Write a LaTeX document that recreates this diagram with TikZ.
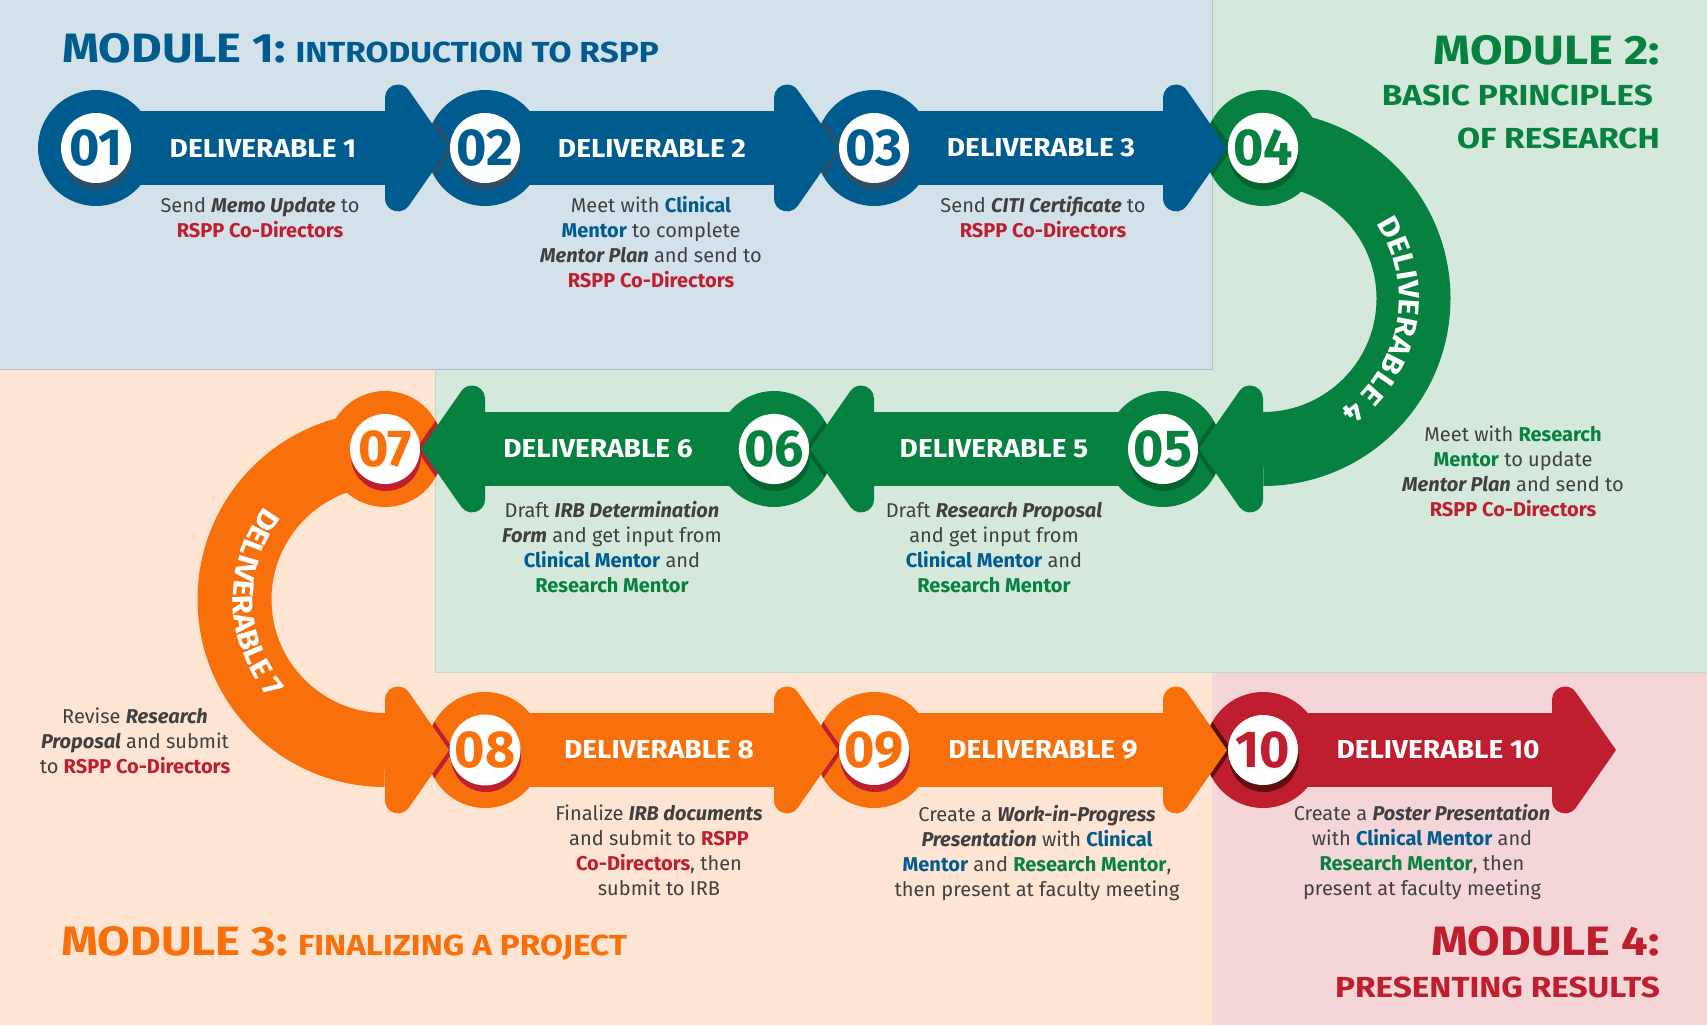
\documentclass[tikz,border=0pt]{standalone}
\usepackage{fontspec}
\setmainfont{Fira Sans}
\newfontfamily\widefont[FakeStretch=1.15]{Fira Sans}
\newfontfamily\labfont[FakeStretch=1.08]{Fira Sans}
\usetikzlibrary{calc,decorations.text}

\definecolor{blueM}{HTML}{005B8F}
\definecolor{blueD}{HTML}{2C4E66}
\definecolor{greenM}{HTML}{07813F}
\definecolor{greenD}{HTML}{04622F}
\definecolor{orangeM}{HTML}{F7700C}
\definecolor{redM}{HTML}{BE1E2E}
\definecolor{redD}{HTML}{5E0F12}
\definecolor{bgA}{HTML}{D3E1EA}
\definecolor{bgB}{HTML}{D4E8DC}
\definecolor{bgC}{HTML}{FDE4D3}
\definecolor{bgD}{HTML}{F4D5D8}
\definecolor{txt}{HTML}{404040}

\newcommand\numfont{\fontsize{52}{52}\selectfont\bfseries}
\newcommand\delfont{\labfont\fontsize{26}{30}\selectfont\bfseries}
\newcommand\curvefont{\labfont\fontsize{29}{30}\selectfont\bfseries}
\newcommand\rsp[1]{\textcolor{redM}{\textbf{#1}}}
\newcommand\clm[1]{\textcolor{blueM}{\textbf{#1}}}
\newcommand\rsm[1]{\textcolor{greenM}{\textbf{#1}}}
\newcommand\bi[1]{\textbf{\textit{#1}}}
% arrow head, drawn round the centre of the circle it points into
\newcommand\headfill[1]{%
  \fill[#1] (-100,50.5) -- (-100,-50.5) arc[start angle=180, end angle=325.2, radius=13]
    -- (-36,0) -- (-76.3,57.9) arc[start angle=34.8, end angle=180, radius=13] -- cycle;}

\tikzset{
  ring/.style={circle, minimum size=116pt, inner sep=0pt},
  disc/.style={circle, fill=white, minimum size=70pt, inner sep=0pt, font=\numfont},
  dlabel/.style={text=white, font=\delfont, inner sep=0pt},
  desc/.style={align=center, text=txt, font=\fontsize{20}{25}\selectfont, inner sep=0pt, anchor=base},
  band/.style={line width=74pt, draw=#1},
  modbig/.style={font=\widefont\fontsize{41}{41}\selectfont\bfseries, inner sep=0pt},
  modsmall/.style={font=\widefont\fontsize{29}{29}\selectfont\bfseries, inner sep=0pt}
}

\begin{document}
\begin{tikzpicture}[x=1pt, y=-1pt]
\useasboundingbox (0,0) rectangle (1707,1025);

% module backgrounds
\fill[bgA] (0,0) rectangle (1212,369);
\fill[bgB] (1212,0) -- (1707,0) -- (1707,672) -- (435,672) -- (435,369) -- (1212,369) -- cycle;
\fill[bgC] (0,369) -- (435,369) -- (435,672) -- (1212,672) -- (1212,1025) -- (0,1025) -- cycle;
\fill[bgD] (1212,672) rectangle (1707,1025);
\draw[bgA!85!black, line width=0.8pt] (0,369) -- (1212,369) -- (1212,0);
\draw[bgB!92!black, line width=0.8pt] (435,369) -- (435,672) -- (1707,672);

% module titles
\node[modbig, text=blueM, anchor=base west] (m1) at (62,63) {MODULE 1:};
\node[modsmall, text=blueM, anchor=base west] (m1s) at ($(m1.base east)+(9,0)$) {INTRODUCTION TO RSPP};
\node[modbig, text=greenM, anchor=base east] (m2) at (1660,64) {MODULE 2:};
\node[modsmall, text=greenM, anchor=base east] (m2s) at (1653,105) {BASIC PRINCIPLES};
\node[modsmall, text=greenM, anchor=base east] (m2t) at (1660,148) {OF RESEARCH};
\node[modbig, text=orangeM, anchor=base west] (m3) at (61,955) {MODULE 3:};
\node[modsmall, text=orangeM, anchor=base west] (m3s) at ($(m3.base east)+(10,0)$) {FINALIZING A PROJECT};
\node[modbig, text=redM, anchor=base east] (m4) at (1660,955) {MODULE 4:};
\node[modsmall, text=redM, anchor=base east] (m4s) at (1660,997) {PRESENTING RESULTS};

% positions of the steps
\foreach \i/\x/\y in {01/96/148, 02/485/148, 03/874/148, 04/1263/148, 05/1163/449,
                      06/774/449, 07/385/449, 08/485/750, 09/874/750, 10/1263/750}
  \coordinate (c\i) at (\x,\y);
\coordinate (e10) at (1652,750);
\coordinate (o4) at (1263,298.5);
\coordinate (o7) at (385,599.5);

% bands
\foreach \a/\b/\dir/\col in {01/02/1/blueM, 02/03/1/blueM, 03/04/1/blueM, 05/06/-1/greenM,
                             06/07/-1/greenM, 08/09/1/orangeM, 09/10/1/orangeM}
  \draw[band=\col] (c\a) -- ($(c\b)+({-100*\dir},0)$);
\draw[band=redM] (c10) -- ($(e10)+(-100,0)$);
\draw[band=greenM] (c04) arc[start angle=-90, end angle=90, radius=150.5];
\draw[band=orangeM] (c07) arc[start angle=-90, end angle=-270, radius=150.5];

% rings
\foreach \i/\col in {01/blueM, 02/blueM, 03/blueM, 04/greenM, 05/greenM,
                     06/greenM, 07/orangeM, 08/orangeM, 09/orangeM, 10/redM}
  \node[ring, fill=\col] (r\i) at (c\i) {};

% arrow heads with their shadow on the next ring
\foreach \b/\dir/\col/\dk in {02/1/blueM/blueD, 03/1/blueM/blueD, 04/1/blueM/greenD,
                              05/-1/greenM/greenD, 06/-1/greenM/greenD, 07/-1/greenM/redM,
                              08/1/orangeM/redM, 09/1/orangeM/redM, 10/1/orangeM/redD}{
  \begin{scope}[shift={(c\b)}, xscale=\dir]
    \clip (0,0) circle[radius=58];
    \begin{scope}[xshift=5pt]
      \headfill{\dk}
    \end{scope}
  \end{scope}
  \begin{scope}[shift={(c\b)}, xscale=\dir]
    \headfill{\col}
  \end{scope}
}
\begin{scope}[shift={(e10)}]
  \headfill{redM}
\end{scope}

% number discs
\foreach \i/\col/\dk in {01/blueM/blueD, 02/blueM/blueD, 03/blueM/blueD, 04/greenM/greenD,
                         05/greenM/greenD, 06/greenM/greenD, 07/orangeM/redM,
                         08/orangeM/redM, 09/orangeM/redM, 10/redM/redD}{
  \fill[\dk] ($(c\i)+(1,7)$) circle[radius=35];
  \node[disc, text=\col] (n\i) at (c\i) {\i};
}

% labels on the bands
\foreach \i/\k/\x/\y in {01/1/263/148, 02/2/652/148, 03/3/1041/148, 05/5/994/449,
                         06/6/598/449, 08/8/659/750, 09/9/1043/750, 10/10/1438/750}
  \node[dlabel] (l\i) at (\x,\y) {DELIVERABLE \k};
\path[decorate, decoration={text along path, text align=center, text color=white,
  text={|\curvefont|DELIVERABLE 4}}]
  ($(o4)+(-40:136)$) arc[start angle=-40, end angle=62, radius=136];
\path[decorate, decoration={text along path, text align=center, text color=white,
  text={|\curvefont|DELIVERABLE 7}}]
  ($(o7)+(-120:152)$) arc[start angle=-120, end angle=-243, radius=152];

% descriptions (placed at the baseline of their last line)
\node[desc] (d01) at (260,237) {Send \bi{Memo Update} to\\\rsp{RSPP Co-Directors}};
\node[desc] (d02) at (651,287) {Meet with \clm{Clinical}\\\clm{Mentor} to complete\\\bi{Mentor Plan} and send to\\\rsp{RSPP Co-Directors}};
\node[desc] (d03) at (1043,237) {Send \bi{CITI Certificate} to\\\rsp{RSPP Co-Directors}};
\node[desc] (d04) at (1513,516) {Meet with \rsm{Research}\\\rsm{Mentor} to update\\\bi{Mentor Plan} and send to\\\rsp{RSPP Co-Directors}};
\node[desc] (d05) at (994,592) {Draft \bi{Research Proposal}\\and get input from\\\clm{Clinical Mentor} and\\\rsm{Research Mentor}};
\node[desc] (d06) at (612,592) {Draft \bi{IRB Determination}\\\bi{Form} and get input from\\\clm{Clinical Mentor} and\\\rsm{Research Mentor}};
\node[desc] (d07) at (135,773) {Revise \bi{Research}\\\bi{Proposal} and submit\\to \rsp{RSPP Co-Directors}};
\node[desc] (d08) at (659,895) {Finalize \bi{IRB documents}\\and submit to \rsp{RSPP}\\\rsp{Co-Directors}, then\\submit to IRB};
\node[desc] (d09) at (1037,896) {Create a \bi{Work-in-Progress}\\\bi{Presentation} with \clm{Clinical}\\\clm{Mentor} and \rsm{Research Mentor},\\then present at faculty meeting};
\node[desc] (d10) at (1422,895) {Create a \bi{Poster Presentation}\\with \clm{Clinical Mentor} and\\\rsm{Research Mentor}, then\\present at faculty meeting};
\end{tikzpicture}
\end{document}
